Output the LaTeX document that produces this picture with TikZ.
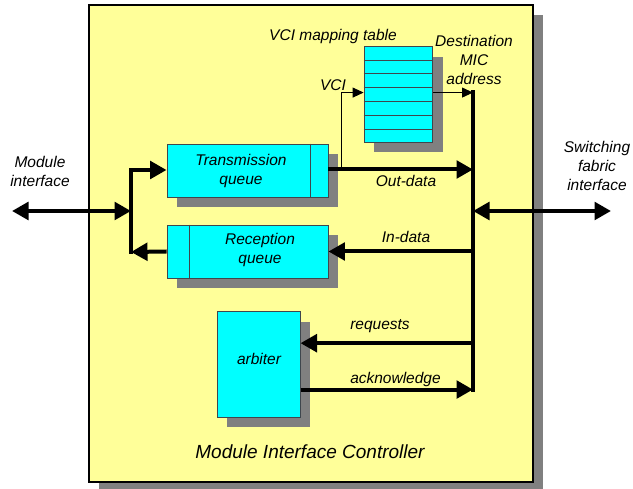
\documentclass[tikz,border=0pt]{standalone}
\usepackage{fontspec}
\setmainfont{Liberation Sans}
\usetikzlibrary{arrows.meta,shadows,calc}
\definecolor{micyellow}{RGB}{255,255,153}
\definecolor{shadowgray}{RGB}{128,128,128}
\definecolor{boxcyan}{RGB}{0,255,255}
\begin{document}
\begin{tikzpicture}[x=1pt,y=-1pt,
  lbl/.style={font=\fontsize{15.5}{19}\selectfont\itshape, inner sep=0pt, align=center},
  cyanbox/.style={draw=black!80!cyan, line width=0.9pt, fill=boxcyan, inner sep=0pt,
     drop shadow={shadow xshift=10pt, shadow yshift=-10pt, fill=shadowgray, opacity=1}},
  bus/.style={line width=4pt, line cap=rect},
  arr/.style={line width=4pt, -{Triangle[length=16.5pt,width=17.5pt]}},
  darr/.style={line width=4pt, {Triangle[length=16.5pt,width=17.5pt]}-{Triangle[length=16.5pt,width=17.5pt]}},
  thin/.style={line width=0.9pt, -{Triangle[length=11pt,width=10pt]}}
]
\useasboundingbox (0,0) rectangle (633,489);
% outer box
\node[draw=black, line width=1.2pt, fill=micyellow, minimum width=444pt, minimum height=477pt, inner sep=0pt,
  drop shadow={shadow xshift=10pt, shadow yshift=-10pt, fill=shadowgray, opacity=1}] (mic) at (311,243.5) {};
% boxes
\node[cyanbox, minimum width=161pt, minimum height=53pt] (tx) at (247.5,170.5) {};
\node[cyanbox, minimum width=161pt, minimum height=53pt] (rx) at (247.5,251.5) {};
\node[cyanbox, minimum width=82.7pt, minimum height=105.7pt] (arb) at (258.7,364.5) {};
\node[cyanbox, minimum width=68.7pt, minimum height=95.6pt] (tab) at (398.4,94.5) {};
\draw[draw=black!80!cyan, line width=0.9pt] ([xshift=-18.4pt]tx.north east) -- ([xshift=-18.4pt]tx.south east);
\draw[draw=black!80!cyan, line width=0.9pt] ([xshift=23pt]rx.north west) -- ([xshift=23pt]rx.south west);
\foreach \i in {1,...,6}
  \draw[draw=black!80!cyan, line width=0.9pt] ($(tab.north west)!\i/7!(tab.south west)$) -- ($(tab.north east)!\i/7!(tab.south east)$);
% box texts
\node[lbl] (txt) at (241,171) {Transmission\\queue};
\node[lbl] (rxt) at (260,250) {Reception\\queue};
\node[lbl] (arbt) at (259,359) {arbiter};
% coordinates
\coordinate (lbtop) at (131,170);
\coordinate (lbbot) at (131,252);
\coordinate (lbmid) at (131,211);
\coordinate (mi) at (12,211);
\coordinate (rbtop) at (473,91.7);
\coordinate (rbbot) at (473,390);
\coordinate (rbmid) at (473,211);
\coordinate (sf) at (611,211);
\coordinate (vcib) at (341,169.5);
% buses
\draw[bus] (lbtop) -- (lbbot);
\draw[bus] (rbtop) -- (rbbot);
% connectors
\draw[darr] (mi) -- (lbmid);
\draw[arr] (lbtop) -- (lbtop -| tx.west);
\draw[arr] (rx.west) -- (lbbot);
\draw[arr] (tx.east |- vcib) -- (vcib -| rbtop);
\draw[arr] (rx.east -| rbtop) -- (rx.east);
\coordinate (req) at ($(arb.north east)!0.3!(arb.south east)$);
\coordinate (ack) at ($(arb.north east)!0.735!(arb.south east)$);
\draw[arr] (req -| rbtop) -- (req);
\draw[arr] (ack) -- (ack -| rbtop);
\draw[darr] (rbmid) -- (sf);
\coordinate (vcit) at ($(tab.north west)!0.48!(tab.south west)$);
\draw[thin] (vcib) -- (vcib |- vcit) -- (vcit);
\draw[thin] (vcit -| tab.east) -- (vcit -| rbtop);
% labels
\node[lbl] (l1) at (333,36) {VCI mapping table};
\node[lbl] (l2) at (474,60) {Destination\\MIC\\address};
\node[lbl] (l3) at (333,85) {VCI};
\node[lbl] (l4) at (406,181) {Out-data};
\node[lbl] (l5) at (406,237) {In-data};
\node[lbl] (l6) at (380,326) {requests};
\node[lbl] (l7) at (395.5,379) {acknowledge};
\node[lbl] (l8) at (40,171) {Module\\interface};
\node[lbl] (l9) at (597,166) {Switching\\fabric\\interface};
\node[lbl, font=\fontsize{19}{23}\selectfont\itshape] (l10) at (310,452) {Module Interface Controller};
\end{tikzpicture}
\end{document}
